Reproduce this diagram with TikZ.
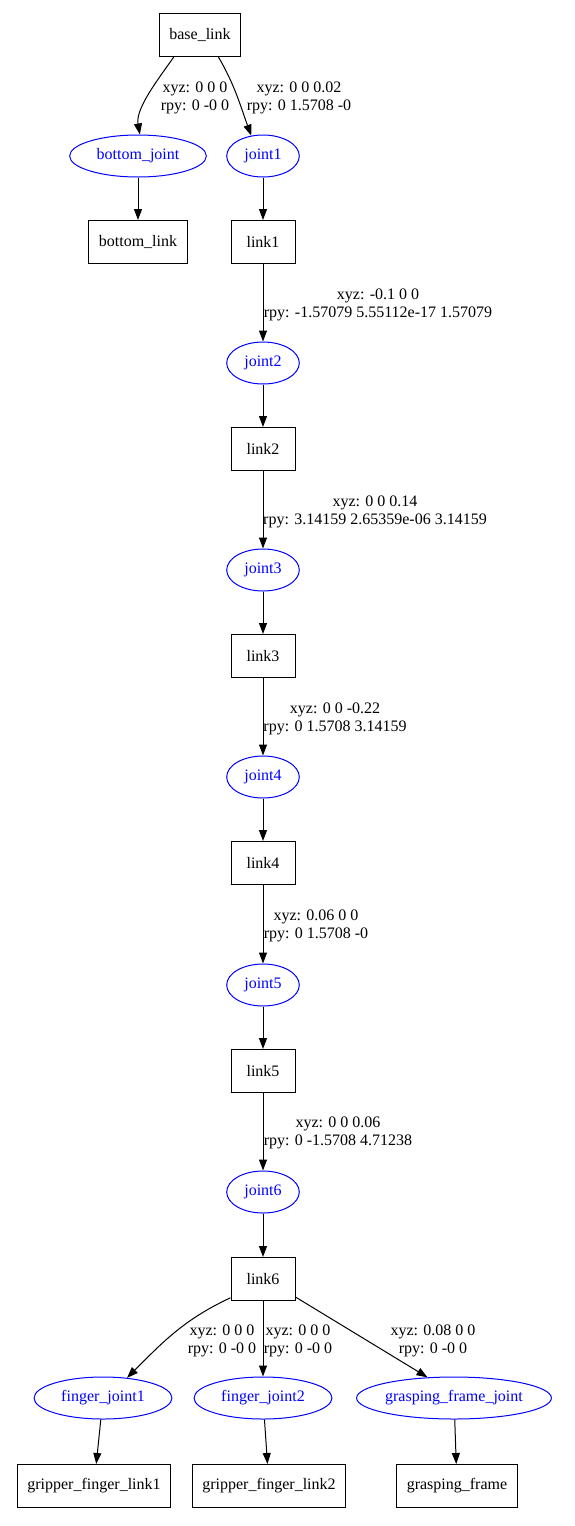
\documentclass[tikz,border=0pt]{standalone}
\usepackage{fontspec}
\setmainfont{Liberation Serif}
\usetikzlibrary{arrows.meta,shapes.geometric}
\begin{document}
\begin{tikzpicture}[x=1pt,y=-1pt,>={Triangle[length=11pt,width=8pt]},line width=1pt,
  font=\fontsize{16}{18}\selectfont,
  linkbox/.style={draw, rectangle, minimum height=43pt, minimum width=64pt, inner xsep=10pt},
  jointell/.style={draw=blue, text=blue, ellipse, minimum height=42pt, inner xsep=7pt},
  lbl/.style={align=center, inner sep=0pt}]
\useasboundingbox (0,0) rectangle (575,1526);
\node(base_link)[linkbox] at (200,35) {base\_link};
\node(bottom_joint)[jointell] at (138,156) {bottom\_joint};
\node(joint1)[jointell] at (263,156) {joint1};
\node(bottom_link)[linkbox] at (138,242) {bottom\_link};
\node(link1)[linkbox] at (263,242) {link1};
\node(joint2)[jointell] at (263,363) {joint2};
\node(link2)[linkbox] at (263,449) {link2};
\node(joint3)[jointell] at (263,570) {joint3};
\node(link3)[linkbox] at (263,656) {link3};
\node(joint4)[jointell] at (263,777) {joint4};
\node(link4)[linkbox] at (263,863) {link4};
\node(joint5)[jointell] at (263,985) {joint5};
\node(link5)[linkbox] at (263,1071) {link5};
\node(joint6)[jointell] at (263,1192) {joint6};
\node(link6)[linkbox] at (263,1279) {link6};
\node(finger_joint1)[jointell] at (103,1398) {finger\_joint1};
\node(finger_joint2)[jointell] at (263,1398) {finger\_joint2};
\node(grasping_frame_joint)[jointell, inner xsep=0pt] at (454,1398) {grasping\_frame\_joint};
\node(gripper_finger_link1)[linkbox] at (94,1486) {gripper\_finger\_link1};
\node(gripper_finger_link2)[linkbox] at (269,1486) {gripper\_finger\_link2};
\node(grasping_frame)[linkbox] at (457,1486) {grasping\_frame};

\node(L_bottom)[lbl] at (195,98) {xyz: 0 0 0\\rpy: 0 -0 0};
\node(L_j1)[lbl] at (299,98) {xyz: 0 0 0.02\\rpy: 0 1.5708 -0};
\node(L_j2)[lbl] at (378,305) {xyz: -0.1 0 0\\rpy: -1.57079 5.55112e-17 1.57079};
\node(L_j3)[lbl] at (375,512) {xyz: 0 0 0.14\\rpy: 3.14159 2.65359e-06 3.14159};
\node(L_j4)[lbl] at (335,719) {xyz: 0 0 -0.22\\rpy: 0 1.5708 3.14159};
\node(L_j5)[lbl] at (316,926) {xyz: 0.06 0 0\\rpy: 0 1.5708 -0};
\node(L_j6)[lbl] at (338,1133) {xyz: 0 0 0.06\\rpy: 0 -1.5708 4.71238};
\node(L_f1)[lbl] at (222,1341) {xyz: 0 0 0\\rpy: 0 -0 0};
\node(L_f2)[lbl] at (298,1341) {xyz: 0 0 0\\rpy: 0 -0 0};
\node(L_gf)[lbl] at (433,1341) {xyz: 0.08 0 0\\rpy: 0 -0 0};

\draw (base_link.220) edge[->, out=235, in=100, looseness=0.8] (bottom_joint.85);
\draw (base_link.-50) edge[->, out=-60, in=110] (joint1.120);
\draw (bottom_joint) edge[->] (bottom_link);
\draw (joint1) edge[->] (link1);
\draw (link1) edge[->] (joint2);
\draw (joint2) edge[->] (link2);
\draw (link2) edge[->] (joint3);
\draw (joint3) edge[->] (link3);
\draw (link3) edge[->] (joint4);
\draw (joint4) edge[->] (link4);
\draw (link4) edge[->] (joint5);
\draw (joint5) edge[->] (link5);
\draw (link5) edge[->] (joint6);
\draw (joint6) edge[->] (link6);
\draw (link6.210) edge[->, out=205, in=45] (finger_joint1.40);
\draw (link6) edge[->] (finger_joint2);
\draw (link6.-29) edge[->] (grasping_frame_joint.142);
\draw (finger_joint1) edge[->] (gripper_finger_link1);
\draw (finger_joint2) edge[->] (gripper_finger_link2);
\draw (grasping_frame_joint) edge[->] (grasping_frame);
\end{tikzpicture}
\end{document}
